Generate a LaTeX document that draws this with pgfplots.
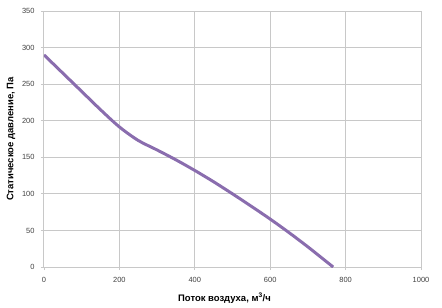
\documentclass[border=0pt]{standalone}
\usepackage{pgfplots}
\pgfplotsset{compat=1.18}
\usepackage{fontspec}
\setmainfont{Liberation Sans}
\definecolor{curve}{HTML}{8A6DAE}
\definecolor{gridc}{HTML}{C8C8C8}
\definecolor{tickc}{HTML}{404040}
\begin{document}
\begin{tikzpicture}
\begin{axis}[
  scale only axis,
  width=377bp, height=256bp,
  xmin=0, xmax=1000, ymin=0, ymax=350,
  xtick={0,200,...,1000}, ytick={0,50,...,350},
  grid=major,
  major grid style={draw=gridc, line width=1bp},
  axis line style={draw=gridc, line width=1bp},
  axis x line*=bottom, axis y line*=left,
  tick style={draw=gridc, line width=0.8bp},
  tick align=outside, major tick length=3bp,
  tick label style={font=\fontsize{7.5}{8}\selectfont, text=tickc},
  /pgf/number format/assume math mode=true,
  /pgf/number format/1000 sep={},
  xticklabel style={yshift=-4bp},
  yticklabel style={xshift=-3bp},
  xlabel={\textbf{Поток воздуха, м\textsuperscript{3}/ч}},
  ylabel={\textbf{Статическое давление, Па}},
  label style={font=\fontsize{9.5}{11}\selectfont},
  xlabel style={yshift=-3bp, xshift=-8bp},
  ylabel style={yshift=0bp},
]
\addplot[curve, line width=3bp, smooth, tension=0.5] coordinates {
(0,290) (50,265) (100,240) (150,215) (200,191.5) (250,173) (300,160) (350,146.5)
(400,132) (450,116.5) (500,100) (550,83) (600,65.5) (650,47) (700,27.5) (750,7) (767,0)
};
\end{axis}
\path[use as bounding box] (current axis.south west) ++(-44bp,-41bp) rectangle ([shift={(21bp,11bp)}]current axis.north east);
\end{tikzpicture}
\end{document}
